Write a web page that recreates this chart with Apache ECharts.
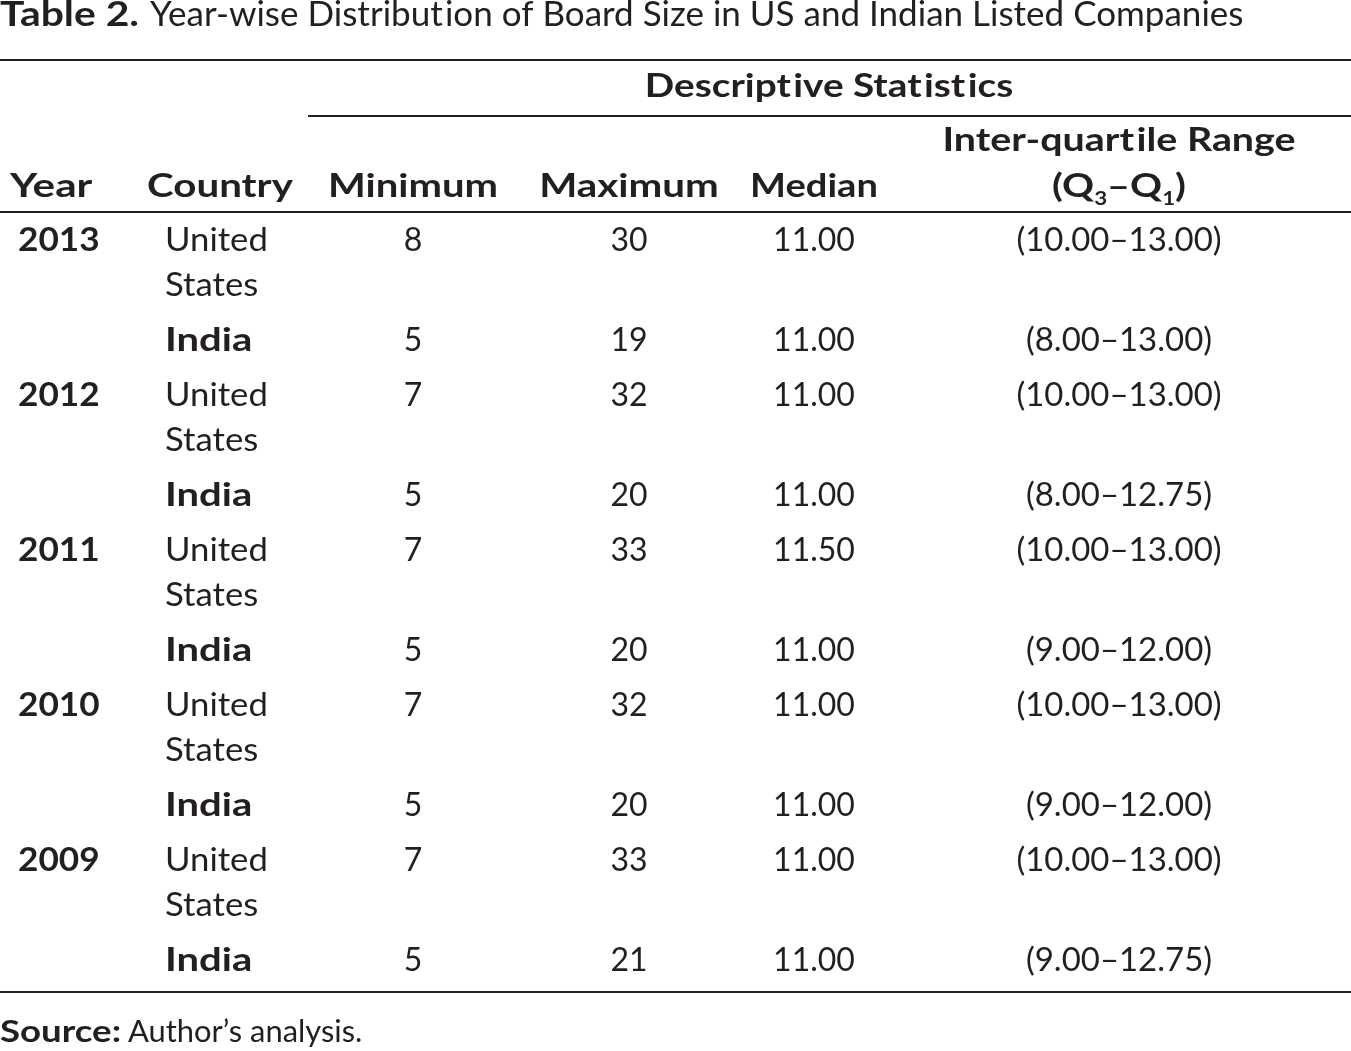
<!DOCTYPE html>
<html>
<head>
<meta charset="utf-8">
<title>Table 2. Board Size</title>
<script src="https://cdn.jsdelivr.net/npm/echarts@6/dist/echarts.min.js"></script>
<style>html,body{margin:0;padding:0;background:#fff;}</style>
</head>
<body>
<div id="main" style="width:1351px;height:1051px;"></div>
<script type="text/javascript">
// table data, one entry per row (US, India for each year)
var years = ['2013', '2012', '2011', '2010', '2009'];
var countries = ['United\nStates', 'India'];
var minimum = [8, 5, 7, 5, 7, 5, 7, 5, 7, 5];
var maximum = [30, 19, 32, 20, 33, 20, 32, 20, 33, 21];
var median = ['11.00', '11.00', '11.00', '11.00', '11.50', '11.00', '11.00', '11.00', '11.00', '11.00'];
var q1 = ['10.00', '8.00', '10.00', '8.00', '10.00', '9.00', '10.00', '9.00', '10.00', '9.00'];
var q3 = ['13.00', '13.00', '13.00', '12.75', '13.00', '12.00', '13.00', '12.00', '13.00', '12.75'];

var FONT = 'Lato';
var INK = '#231f20';
var FS = 32;
var HS = '\u200A'; // hair space, keeps Lato from joining "ti"

// layout: column anchors and row placement (page pixels)
var COL = { year: 18, country: 165, min: 413, max: 629, median: 814, iqr: 1119 };
var ROW0 = 241, YEAR_STEP = 155, INDIA_OFFSET = 100, LINE_H = 45;
// horizontal stretch so Lato fills the width of the original face
var SX_REG = 1.085, SX_BOLD = 1.25, SX_NUM = 1.0;

var rows = [];
for (var i = 0; i < years.length * 2; i++) rows.push([i]);

function txt(x, y, s, align, bold, sx, extra) {
    var style = {
        x: 0, y: 0, text: s, align: align, verticalAlign: 'middle',
        fontFamily: FONT, fontSize: FS, fontWeight: bold ? 'bold' : 'normal', fill: INK
    };
    if (extra) for (var k in extra) style[k] = extra[k];
    return { type: 'text', x: x, y: y, scaleX: sx || 1, style: style };
}

function rule(x1, y, x2) {
    return { type: 'line', shape: { x1: x1, y1: y, x2: x2, y2: y }, style: { stroke: INK, lineWidth: 2 } };
}

var myChart = echarts.init(document.getElementById('main'), null, { renderer: 'canvas' });

var option = {
    backgroundColor: '#fff',
    animation: false,
    grid: { left: 0, right: 0, top: 0, bottom: 0 },
    xAxis: { type: 'value', min: 0, max: 1351, show: false },
    yAxis: { type: 'value', min: 0, max: 1051, inverse: true, show: false },
    graphic: [
        // caption
        txt(0, 15, 'Table 2.', 'left', true, 1.2, { fontSize: 34 }),
        txt(150, 15, 'Year-wise Distribut' + HS + 'ion of Board Size in US and Indian Listed Companies',
            'left', false, 1.03, { fontSize: 34 }),
        rule(0, 60, 1351),
        rule(308, 116, 1351),
        rule(0, 212, 1351),
        rule(0, 992, 1351),
        // header
        txt(829, 87, 'Descript' + HS + 'ive Stat' + HS + 'ist' + HS + 'ics', 'center', true, 1.21),
        txt(10, 187, 'Year', 'left', true, 1.32),
        txt(147, 187, 'Country', 'left', true, 1.26),
        txt(COL.min, 187, 'Minimum', 'center', true, SX_BOLD),
        txt(COL.max, 187, 'Maximum', 'center', true, 1.26),
        txt(COL.median, 187, 'Median', 'center', true, 1.19),
        txt(COL.iqr, 141, 'Inter-quart' + HS + 'ile Range', 'center', true, 1.23),
        {
            type: 'text', x: COL.iqr, y: 187, scaleX: 1.24,
            style: {
                x: 0, y: 0, align: 'center', verticalAlign: 'middle',
                text: '{m|(Q}{s|3}{m|–Q}{s|1}{m|)}',
                rich: {
                    m: { fontFamily: FONT, fontSize: FS, fontWeight: 'bold', fill: INK, lineHeight: 40 },
                    s: { fontFamily: FONT, fontSize: 18, fontWeight: 'bold', fill: INK, lineHeight: 40, padding: [24, 0, 0, 0] }
                }
            }
        },
        // note
        txt(0, 1032, 'Source:', 'left', true, 1.22, { fontSize: 30 }),
        txt(128, 1032, 'Author’s analysis.', 'left', false, 1.03, { fontSize: 30 })
    ],
    series: [{
        type: 'custom',
        coordinateSystem: 'cartesian2d',
        data: rows,
        encode: { x: -1, y: -1 },
        renderItem: function (params, api) {
            var i = api.value(0);
            var yr = Math.floor(i / 2), isUS = i % 2 === 0;
            var yv = ROW0 + yr * YEAR_STEP + (isUS ? 0 : INDIA_OFFSET);
            function at(x) { return api.coord([x, yv]); }
            var kids = [];
            var c = at(COL.country);
            if (isUS) {
                var py = at(COL.year);
                kids.push(txt(py[0], py[1], years[yr], 'left', true, 1.1));
                kids.push(txt(c[0], c[1] - LINE_H / 2, countries[0], 'left', false, SX_REG,
                    { verticalAlign: 'top', lineHeight: LINE_H }));
            } else {
                kids.push(txt(c[0], c[1], countries[1], 'left', true, SX_BOLD));
            }
            var pm = at(COL.min), px = at(COL.max), pd = at(COL.median), pq = at(COL.iqr);
            kids.push(txt(pm[0], pm[1], String(minimum[i]), 'center', false, SX_NUM));
            kids.push(txt(px[0], px[1], String(maximum[i]), 'center', false, SX_NUM));
            kids.push(txt(pd[0], pd[1], median[i], 'center', false, SX_NUM));
            kids.push(txt(pq[0], pq[1], '(' + q1[i] + '–' + q3[i] + ')', 'center', false, 1.03));
            return { type: 'group', children: kids };
        }
    }]
};

myChart.setOption(option);
</script>
</body>
</html>
